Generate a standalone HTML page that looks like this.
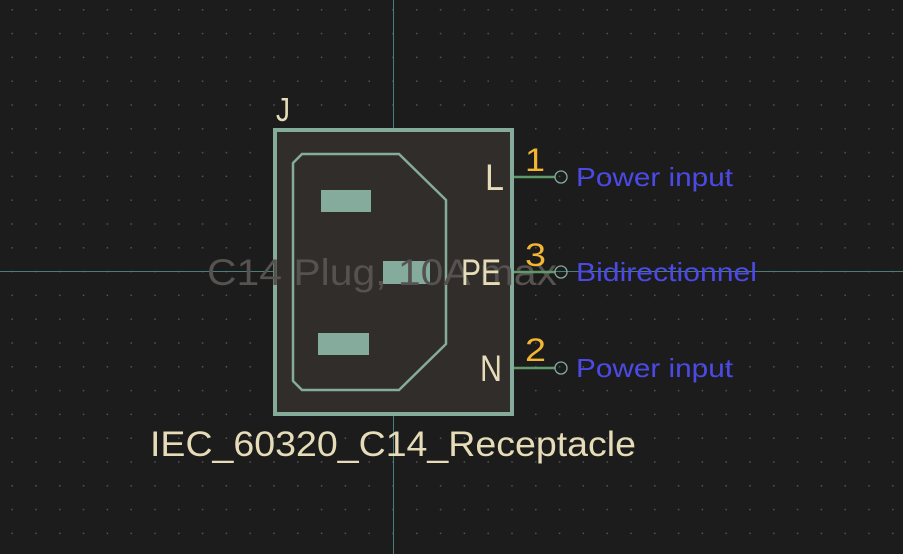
<!DOCTYPE html>
<html><head><meta charset="utf-8"><style>
html,body{margin:0;padding:0;background:#1c1c1c;}
svg{display:block}
text{font-family:"Liberation Sans",sans-serif;}
</style></head><body>
<svg width="903" height="554" viewBox="0 0 903 554" xmlns="http://www.w3.org/2000/svg">
<defs>
<pattern id="g" x="0" y="-1.9" width="23.8" height="23.8" patternUnits="userSpaceOnUse">
<rect x="11.5" y="11" width="1.4" height="1.4" fill="#5a5a5a"/>
</pattern>
</defs>
<rect width="903" height="554" fill="#1c1c1c"/>
<rect width="903" height="554" fill="url(#g)"/>
<line x1="393.5" y1="0" x2="393.5" y2="554" stroke="#4a7e7a" stroke-width="1"/>
<line x1="0" y1="271.5" x2="903" y2="271.5" stroke="#4a7e7a" stroke-width="1"/>
<rect x="275" y="130" width="237" height="284" fill="#312d2b" stroke="#84ab9c" stroke-width="4"/>
<polygon points="302,154 399,154 446,200 446,344 399,390 302,390 293,381 293,163" fill="none" stroke="#84ab9c" stroke-width="2.5"/>
<rect x="321" y="190" width="50" height="22" fill="#84ab9c"/>
<rect x="383" y="261" width="47" height="23" fill="#84ab9c"/>
<rect x="318" y="333" width="51" height="22" fill="#84ab9c"/>
<text x="207" y="285" font-size="37" fill="#55524f" textLength="350" lengthAdjust="spacingAndGlyphs">C14 Plug, 10A max</text>
<g stroke="#5f9a6a" stroke-width="2.5">
<line x1="514" y1="177" x2="555" y2="177"/>
<line x1="514" y1="272" x2="555" y2="272"/>
<line x1="514" y1="368" x2="555" y2="368"/>
</g>
<g fill="none" stroke="#84ab9c" stroke-width="1.3">
<circle cx="561" cy="177" r="6"/>
<circle cx="561" cy="272" r="6"/>
<circle cx="561" cy="368" r="6"/>
</g>
<g fill="#e6dcb8" font-size="37">
<text x="485" y="190" textLength="19" lengthAdjust="spacingAndGlyphs">L</text>
<text x="461" y="285" textLength="40" lengthAdjust="spacingAndGlyphs">PE</text>
<text x="480" y="381" textLength="22" lengthAdjust="spacingAndGlyphs">N</text>
<text x="276" y="121" font-size="33" textLength="14" lengthAdjust="spacingAndGlyphs">J</text>
<text x="150" y="456" font-size="35" textLength="486" lengthAdjust="spacingAndGlyphs">IEC_60320_C14_Receptacle</text>
</g>
<g fill="#f2b632" font-size="32">
<text x="525" y="171" textLength="20" lengthAdjust="spacingAndGlyphs">1</text>
<text x="525" y="266" textLength="21" lengthAdjust="spacingAndGlyphs">3</text>
<text x="525" y="361" textLength="21" lengthAdjust="spacingAndGlyphs">2</text>
</g>
<g fill="#4b4ae6" font-size="26">
<text x="576" y="186" textLength="157" lengthAdjust="spacingAndGlyphs">Power input</text>
<text x="576" y="281" textLength="181" lengthAdjust="spacingAndGlyphs">Bidirectionnel</text>
<text x="576" y="377" textLength="157" lengthAdjust="spacingAndGlyphs">Power input</text>
</g>
</svg>
</body></html>
